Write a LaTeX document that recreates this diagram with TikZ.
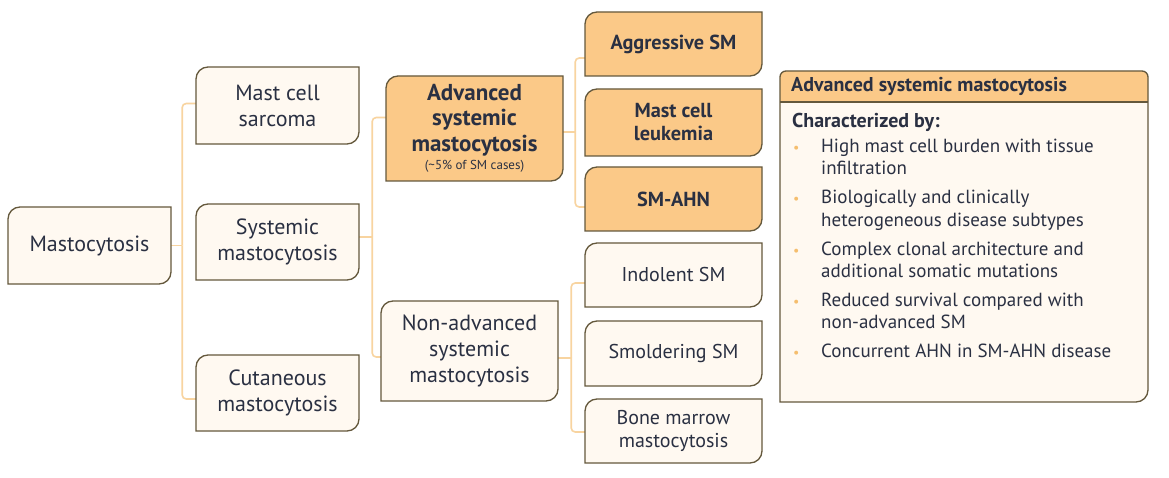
\documentclass[tikz,border=0pt]{standalone}
\usepackage{fontspec}
\setmainfont{PT Sans}
\usetikzlibrary{backgrounds}
\definecolor{boxline}{RGB}{100,88,60}
\definecolor{cream}{RGB}{255,249,241}
\definecolor{orfill}{RGB}{251,201,136}
\definecolor{connc}{RGB}{248,212,160}
\definecolor{bulc}{RGB}{245,190,110}
\definecolor{textc}{RGB}{42,48,66}
\tikzset{
  boxline/.style={draw=boxline, line width=1.3bp},
  boxtext/.style={inner sep=0pt, align=center, text=textc, font=\fontsize{22bp}{26bp}\selectfont},
  leaftext/.style={boxtext, font=\fontsize{20bp}{23bp}\selectfont},
  boldtext/.style={boxtext, font=\fontsize{20.3bp}{23bp}\selectfont\bfseries},
  advtext/.style={boxtext, font=\fontsize{23bp}{25.5bp}\selectfont\bfseries},
  conn/.style={draw=connc, line width=1.6bp, rounded corners=4bp},
  ptext/.style={anchor=base west, inner sep=0pt, text=textc, font=\fontsize{19bp}{22bp}\selectfont},
  phead/.style={ptext, font=\fontsize{20bp}{22bp}\selectfont\bfseries},
  bul/.style={anchor=base west, inner sep=0pt, text=bulc, font=\fontsize{14bp}{22bp}\selectfont}
}
% name x1 y1 x2 y2 fill nodestyle text
\newcommand\leafbox[8]{%
  \draw[boxline, fill=#6] (#2,#5) -- (#2,{#3+12}) arc[start angle=180,end angle=270,radius=12]
     -- (#4,#3) -- (#4,{#5-12}) arc[start angle=0,end angle=90,radius=12] -- cycle;
  \node[#7, minimum width={(#4-#2)*1bp}, minimum height={(#5-#3)*1bp}] (#1) at ({(#2+#4)/2},{(#3+#5)/2}) {#8};
}
\begin{document}
\begin{tikzpicture}[x=1bp,y=-1bp]
\useasboundingbox (0,0) rectangle (1169,478);

\leafbox{masto}{8}{207}{171}{284}{cream}{boxtext}{Mastocytosis}
\leafbox{sarc}{196}{67}{359}{144}{cream}{boxtext}{Mast cell\\sarcoma}
\leafbox{sysm}{196}{204}{359}{280}{cream}{boxtext}{Systemic\\mastocytosis}
\leafbox{cut}{196}{355}{359}{431}{cream}{boxtext}{Cutaneous\\mastocytosis}
\leafbox{adv}{386}{76}{563}{181}{orfill}{advtext}{Advanced\\systemic\\mastocytosis\\[-7bp]\fontsize{13bp}{14bp}\selectfont\mdseries (\textasciitilde5\% of SM cases)}
\leafbox{nonadv}{381}{301}{558}{401}{cream}{boxtext}{Non-advanced\\systemic\\mastocytosis}
\leafbox{aggr}{585}{12}{762}{76}{orfill}{boldtext}{Aggressive SM}
\leafbox{mcl}{585}{89}{762}{156}{orfill}{boldtext}{Mast cell\\leukemia}
\leafbox{smahn}{585}{167}{762}{231}{orfill}{boldtext}{SM-AHN}
\leafbox{isn}{585}{243}{762}{307}{cream}{leaftext}{Indolent SM}
\leafbox{ssm}{585}{321}{762}{386}{cream}{leaftext}{Smoldering SM}
\leafbox{bmm}{585}{399}{762}{463}{cream}{leaftext}{Bone marrow\\mastocytosis}

% connectors (the middle child of each group has no stub of its own)
\begin{scope}[on background layer]
\fill[white] (0,0) rectangle (1169,478);
\draw[conn] (masto.east) -- ++(11,0) coordinate (j1);
\draw[conn] (j1) |- ([yshift=2bp]sarc.west);
\draw[conn] (j1) |- ([yshift=-6bp]cut.west);
\draw[conn] ([yshift=5bp]sysm.east) -- ++(13,0) coordinate (j2);
\draw[conn] (j2) |- ([yshift=11bp]adv.west);
\draw[conn] (j2) |- ([yshift=-6bp]nonadv.west);
\draw[conn] ([yshift=-3.5bp]adv.east) -- ++(12,0) coordinate (j3);
\draw[conn] (j3) |- ([yshift=-14bp]aggr.west);
\draw[conn] (j3) |- ([yshift=-8bp]smahn.west);
\draw[conn] ([yshift=-7bp]nonadv.east) -- ++(13,0) coordinate (j4);
\draw[conn] (j4) |- ([yshift=-8bp]isn.west);
\draw[conn] (j4) |- ([yshift=-1bp]bmm.west);
\end{scope}

% right panel
\fill[cream] (780,402) -- (780,77) arc[start angle=180,end angle=270,radius=6] -- (1142,71)
  arc[start angle=270,end angle=360,radius=6] -- (1148,390) arc[start angle=0,end angle=90,radius=12] -- cycle;
\fill[orfill] (780,102) -- (780,77) arc[start angle=180,end angle=270,radius=6] -- (1142,71)
  arc[start angle=270,end angle=360,radius=6] -- (1148,102) -- cycle;
\draw[boxline] (780,102) -- (1148,102);
\draw[boxline] (780,402) -- (780,77) arc[start angle=180,end angle=270,radius=6] -- (1142,71)
  arc[start angle=270,end angle=360,radius=6] -- (1148,390) arc[start angle=0,end angle=90,radius=12] -- cycle;

\node[phead] (ph) at (791,92) {Advanced systemic mastocytosis};
\node[phead] (pc) at (792,128) {Characterized by:};
\node[bul] (b1) at (793,153) {•};
\node[ptext] (t1a) at (821,153) {High mast cell burden with tissue};
\node[ptext] (t1b) at (821,175) {infiltration};
\node[bul] (b2) at (793,204) {•};
\node[ptext] (t2a) at (821,204) {Biologically and clinically};
\node[ptext] (t2b) at (821,227) {heterogeneous disease subtypes};
\node[bul] (b3) at (793,256) {•};
\node[ptext] (t3a) at (821,256) {Complex clonal architecture and};
\node[ptext] (t3b) at (821,278) {additional somatic mutations};
\node[bul] (b4) at (793,307) {•};
\node[ptext] (t4a) at (821,307) {Reduced survival compared with};
\node[ptext] (t4b) at (821,329) {non-advanced SM};
\node[bul] (b5) at (793,358) {•};
\node[ptext] (t5a) at (821,358) {Concurrent AHN in SM-AHN disease};
\end{tikzpicture}
\end{document}
